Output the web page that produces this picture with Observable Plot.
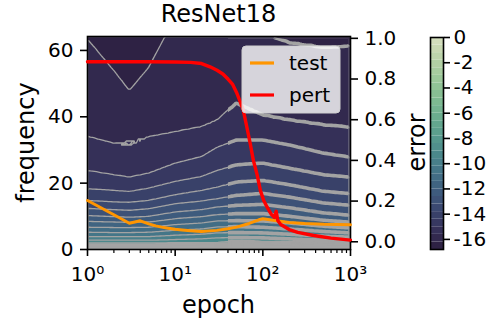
<!DOCTYPE html>
<html><head><meta charset="utf-8">
<script src="https://cdn.jsdelivr.net/npm/d3@7"></script>
<script src="https://cdn.jsdelivr.net/npm/@observablehq/plot@0.6"></script>
<style>
body{margin:0;background:#fff;}
#wrap{position:relative;width:491px;height:322px;font-family:"DejaVu Sans";overflow:hidden;background:#fff;}
#wrap svg{position:absolute;left:0;top:0;background:transparent;overflow:visible;}
</style></head><body><div id="wrap"></div>
<script>
// ---------- text ----------
const title = "ResNet18";
const xLabel = "epoch";
const yLabel = "frequency";
const y2Label = "error";
const seriesNames = ["test", "pert"];

// ---------- ticks ----------
const xTicks = [1, 10, 100, 1000];
const xTickLabels = ["10\u2070", "10\u00B9", "10\u00B2", "10\u00B3"];
const xMinorTicks = [2,3,4,5,6,7,8,9,20,30,40,50,60,70,80,90,200,300,400,500,600,700,800,900];
const yTicks = [0, 20, 40, 60];
const y2Ticks = [0, 0.2, 0.4, 0.6, 0.8, 1.0];
const cbTicks = [0, -2, -4, -6, -8, -10, -12, -14, -16];

// ---------- contour field (log error) ----------
// contour thresholds (band lower bounds) and the top of the colour bar
const levels = [-16.8, -16.2, -15.6, -15.0, -14.4, -13.8, -13.2, -12.6, -12.0, -11.4, -10.8, -10.2, -9.6, -9.0,
                -8.4, -7.8, -7.2, -6.6, -6.0, -5.4, -4.8, -4.2, -3.6, -3.0, -2.4, -1.8, -1.2, -0.6];
const levelTop = 0;
// epochs at which the contour line heights were read
const gridEpochs = [1, 2, 3, 5, 10, 20, 30, 50, 100, 200, 500, 1000];
// frequency of each visible contour line at those epochs (null = above the frame)
const f_16_2 = [63.5, 54, 48, 55, null, null, null, null, null, 62.5, 61, 61.5];
const f_15_6 = [34.1, 32.0, 30.8, 34.0, 35.5, 37.0, 39.0, 44.0, 40.5, 39.0, 37.5, 36.8];
const f_15_0 = [23.8, 22.5, 21.8, 23.0, 26.0, 28.0, 30.8, 33.0, 33.0, 31.5, 29.0, 27.8];
const f_14_4 = [18.3, 17.8, 17.5, 18.5, 20.5, 22.0, 23.8, 25.5, 26.0, 24.5, 22.5, 21.8];
const f_13_8 = [14.8, 14.3, 14.2, 14.8, 16.5, 17.8, 18.8, 20.3, 20.8, 19.5, 17.5, 16.8];
const f_13_2 = [12.4, 12.0, 11.8, 12.3, 13.8, 14.6, 15.3, 16.3, 16.9, 15.8, 14.0, 13.3];
const f_12_6 = [10.2, 9.9, 9.7, 10.0, 11.3, 12.0, 12.8, 13.3, 13.6, 12.6, 11.0, 10.3];
const f_12_0 = [8.5, 8.3, 8.2, 8.3, 9.3, 9.9, 10.5, 10.8, 10.8, 10.0, 8.8, 8.2];
const f_11_4 = [6.7, 6.6, 6.6, 6.7, 7.5, 8.0, 8.6, 8.7, 8.6, 8.0, 7.0, 6.5];
const f_10_8 = [5.2, 5.1, 5.1, 5.2, 5.8, 6.2, 6.8, 6.9, 6.7, 6.2, 5.4, 5.0];
const f_10_2 = [3.9, 3.9, 3.9, 3.9, 4.3, 4.6, 5.0, 5.1, 5.0, 4.6, 4.0, 3.7];
const f_9_6  = [2.8, 2.8, 2.8, 2.8, 3.0, 3.2, 3.5, 3.6, 3.5, 3.2, 2.8, 2.7];
const f_9_0  = [1.7, 1.7, 1.7, 1.7, 1.8, 1.9, 2.1, 2.2, 2.1, 1.9, 1.7, 1.6];
// value along the top edge (frequency 64) and the bottom edge (frequency 0)
const topFreq = 64;
const topValues = [-16.25, -16.5, -16.6, -16.5, -16.0, -15.8, -15.8, -15.9, -16.1, -16.35, -16.45, -16.4];
const bottomFreq = 0;
const bottomValues = [-0.3, -0.3, -0.3, -0.3, -0.3, -0.3, -0.3, -0.3, -0.3, -0.3, -0.3, -0.3];
// samples inside the dark pocket at the top left
const pocketEpoch = [2, 3];
const pocketFreq = [60, 57];
const pocketValue = [-16.45, -16.5];

// ---------- error curves ----------
const testEpoch = [1, 2, 3, 4, 5, 6, 7, 8, 10, 12, 15, 20, 30, 40, 50, 70, 90, 100, 120, 150, 200, 300, 500, 700, 1000];
const testErr   = [0.203, 0.133, 0.091, 0.103, 0.088, 0.078, 0.072, 0.068, 0.062, 0.058, 0.054, 0.051, 0.056, 0.064, 0.072, 0.090, 0.108, 0.113, 0.108, 0.102, 0.095, 0.090, 0.086, 0.085, 0.084];
const pertEpoch = [1, 5, 10, 15, 20, 25, 30, 35, 40, 45, 50, 55, 60, 66, 72, 78, 86, 94, 103, 112, 125, 135, 142, 148, 160, 200, 250, 380, 600, 1000];
const pertErr   = [0.885, 0.885, 0.884, 0.882, 0.876, 0.86, 0.843, 0.825, 0.80, 0.775, 0.735, 0.69, 0.645, 0.56, 0.48, 0.40, 0.33, 0.25, 0.20, 0.17, 0.135, 0.12, 0.15, 0.105, 0.085, 0.06, 0.046, 0.031, 0.018, 0.008];

// ---------- styles ----------
const testColor = "#ff9500", pertColor = "#ff0000", lineGray = "#a3a3a3";
const W = 491, H = 322;
const M = {left: 87, right: 141, top: 36, bottom: 73};
const FONT = "DejaVu Sans";

// seaborn cubehelix (start=.5, rot=-.75), dark -> light
function cubehelixSeaborn(u) {
  const x = 0.15 + 0.7 * u;
  const a = 0.8 * x * (1 - x) / 2;
  const phi = 2 * Math.PI * (0.5 / 3 - 0.75 * x);
  const c = Math.cos(phi), s = Math.sin(phi);
  const r = x + a * (-0.14861 * c + 1.78277 * s);
  const g = x + a * (-0.29227 * c - 0.90649 * s);
  const b = x + a * (1.97294 * c);
  const f = v => Math.round(255 * Math.max(0, Math.min(1, v)));
  return `rgb(${f(r)},${f(g)},${f(b)})`;
}
const bounds = [...levels, levelTop];
const step = bounds[1] - bounds[0];
const colorScale = {type: "linear", domain: [bounds[0] - step / 2, levelTop - step / 2], interpolate: cubehelixSeaborn};

// ---------- build tables ----------
const levelLines = [
  [-16.2, f_16_2], [-15.6, f_15_6], [-15.0, f_15_0], [-14.4, f_14_4], [-13.8, f_13_8],
  [-13.2, f_13_2], [-12.6, f_12_6], [-12.0, f_12_0], [-11.4, f_11_4], [-10.8, f_10_8],
  [-10.2, f_10_2], [-9.6, f_9_6], [-9.0, f_9_0]
];
const gridPoints = [];
gridEpochs.forEach((e, i) => {
  gridPoints.push({epoch: e, freq: topFreq, v: topValues[i]});
  gridPoints.push({epoch: e, freq: bottomFreq, v: bottomValues[i]});
  for (const [lv, arr] of levelLines) if (arr[i] != null) gridPoints.push({epoch: e, freq: arr[i], v: lv});
});
pocketEpoch.forEach((e, i) => gridPoints.push({epoch: e, freq: pocketFreq[i], v: pocketValue[i]}));
const testRows = testEpoch.map((e, i) => ({epoch: e, err: testErr[i]}));
const pertRows = pertEpoch.map((e, i) => ({epoch: e, err: pertErr[i]}));
const bands = levels.map((t, i) => ({t, t2: bounds[i + 1]}));

const wrap = document.getElementById("wrap");
const common = {width: W, height: H, marginLeft: M.left, marginRight: M.right, marginTop: M.top, marginBottom: M.bottom,
  style: {fontFamily: FONT, fontSize: "20px", background: "transparent", color: "black", overflow: "visible"}};
const xScale = {type: "log", domain: [1, 1000], label: null};
const yDomain = [0, 64.2];
const y2Domain = [-0.038, 1.009];

const contourOpts = {x: "epoch", y: "freq", value: "v", thresholds: levels, interpolate: "barycentric"};

// ---------- main panel ----------
const p1 = Plot.plot({
  ...common,
  x: xScale,
  y: {domain: yDomain, label: null},
  color: colorScale,
  marks: [
    Plot.contour(gridPoints, {...contourOpts, fill: "value", stroke: "none"}),
    Plot.contour(gridPoints, {...contourOpts, fill: "none", stroke: lineGray, strokeWidth: 1.3}),
    Plot.contour(gridPoints, {...contourOpts, fill: "none", stroke: lineGray, strokeWidth: 3.6}),
    Plot.frame({stroke: "black", strokeWidth: 1.6}),
    Plot.axisY({ticks: yTicks, tickSize: 7, tickPadding: 7, fontSize: 20, strokeWidth: 1.6, label: null}),
    Plot.axisX({ticks: xTicks, tickFormat: d => xTickLabels[xTicks.indexOf(d)], tickSize: 7, tickPadding: 10, fontSize: 20, strokeWidth: 1.6, label: null}),
    Plot.axisX(xMinorTicks, {tickSize: 4, tickFormat: () => "", strokeWidth: 1.2, label: null})
  ]
});
wrap.appendChild(p1);
{
  const sx = p1.scale("x"), sy = p1.scale("y");
  const svg = d3.select(p1);
  const defs = svg.append("defs");
  const x0 = sx.apply(1), x1 = sx.apply(1000), yT = sy.apply(yDomain[1]), yB = sy.apply(0);
  defs.append("clipPath").attr("id", "clipThin").append("rect")
    .attr("x", x0 + 0.8).attr("y", yT + 0.8).attr("width", x1 - x0 - 1.6).attr("height", yB - yT - 1.6);
  const xs = sx.apply(40);
  defs.append("clipPath").attr("id", "clipThick").append("rect")
    .attr("x", xs).attr("y", yT + 2).attr("width", x1 - 2 - xs).attr("height", yB - yT - 2.8);
  const groups = p1.querySelectorAll('g[aria-label="contour"]');
  if (groups[1]) groups[1].setAttribute("clip-path", "url(#clipThin)");
  if (groups[2]) groups[2].setAttribute("clip-path", "url(#clipThick)");
}

// ---------- twin axis with error curves ----------
const p2 = Plot.plot({
  ...common,
  x: {...xScale, axis: null},
  y: {domain: y2Domain, label: null},
  marks: [
    Plot.line(testRows, {x: "epoch", y: "err", stroke: testColor, strokeWidth: 3}),
    Plot.line(pertRows, {x: "epoch", y: "err", stroke: pertColor, strokeWidth: 3.4}),
    Plot.axisY({anchor: "right", ticks: y2Ticks, tickFormat: d3.format(".1f"), tickSize: 7, tickPadding: 7, fontSize: 20, strokeWidth: 1.6, label: null})
  ]
});
wrap.appendChild(p2);

// ---------- colour bar ----------
const p3 = Plot.plot({
  width: W, height: H, marginLeft: 430, marginRight: 48, marginTop: 37, marginBottom: 73,
  style: {fontFamily: FONT, fontSize: "20px", background: "transparent", color: "black", overflow: "visible"},
  y: {domain: [bounds[0], levelTop], label: null},
  color: colorScale,
  marks: [
    Plot.rect(bands, {y1: "t", y2: "t2", fill: "t"}),
    Plot.frame({stroke: "black", strokeWidth: 1.6}),
    Plot.axisY({anchor: "right", ticks: cbTicks, tickFormat: d => String(d), tickSize: 6, tickPadding: 4, fontSize: 20, strokeWidth: 1.6, label: null})
  ]
});
wrap.appendChild(p3);

// ---------- titles, labels and legend ----------
const ov = d3.select(wrap).append("svg").attr("width", W).attr("height", H)
  .style("font-family", FONT);
const cx = (M.left + (W - M.right)) / 2, cy = (M.top + (H - M.bottom)) / 2;
ov.append("text").attr("x", cx).attr("y", 22).attr("text-anchor", "middle").attr("font-size", 24).text(title);
ov.append("text").attr("x", cx).attr("y", 313).attr("text-anchor", "middle").attr("font-size", 24).text(xLabel);
ov.append("text").attr("transform", `translate(34,${cy}) rotate(-90)`).attr("text-anchor", "middle").attr("font-size", 24).text(yLabel);
ov.append("text").attr("transform", `translate(425,${cy}) rotate(-90)`).attr("text-anchor", "middle").attr("font-size", 24).text(y2Label);

const lg = ov.append("g");
lg.append("rect").attr("x", 242).attr("y", 46).attr("width", 98).attr("height", 67).attr("rx", 4)
  .attr("fill", "white").attr("fill-opacity", 0.8).attr("stroke", "#d0d0d0").attr("stroke-width", 1);
const lgColors = [testColor, pertColor];
seriesNames.forEach((name, i) => {
  const yy = 63 + i * 32;
  lg.append("line").attr("x1", 250).attr("x2", 274).attr("y1", yy).attr("y2", yy)
    .attr("stroke", lgColors[i]).attr("stroke-width", 3.2);
  lg.append("text").attr("x", 289).attr("y", yy + 7).attr("font-size", 20).text(name);
});
</script></body></html>
